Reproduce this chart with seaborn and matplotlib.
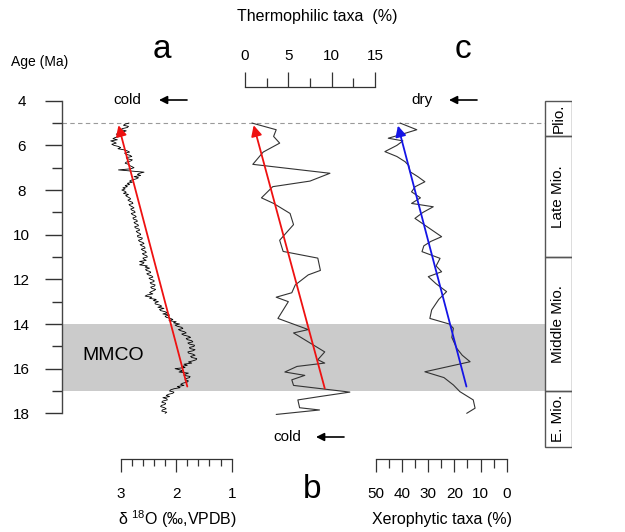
import numpy as np
import matplotlib
matplotlib.use("Agg")
import matplotlib.pyplot as plt
import seaborn as sns

# ---------------- data ----------------
d18o_age = np.round(np.arange(5.0, 18.0001, 0.05), 2)
d18o_val = [2.85, 2.92, 2.95, 2.86, 2.88, 2.97, 3.00, 2.90, 2.96, 3.04,
            3.08, 2.98, 3.02, 3.10, 3.14, 3.06, 3.18, 3.12, 3.08, 3.16,
            3.12, 3.04, 3.00, 3.05, 2.94, 2.88, 2.84, 2.93, 2.90, 2.83,
            2.80, 2.90, 2.88, 2.79, 2.82, 2.90, 2.92, 2.86, 2.84, 2.80,
            2.76, 2.82, 3.04, 2.80, 2.58, 2.66, 2.70, 2.64, 2.76, 2.68,
            2.72, 2.80, 2.84, 2.79, 2.88, 2.84, 2.92, 2.88, 2.96, 2.92,
            2.98, 2.93, 2.90, 2.95, 2.86, 2.91, 2.88, 2.84, 2.82, 2.87,
            2.84, 2.79, 2.78, 2.85, 2.83, 2.79, 2.76, 2.82, 2.80, 2.75,
            2.74, 2.81, 2.79, 2.74, 2.72, 2.78, 2.77, 2.71, 2.70, 2.76,
            2.74, 2.69, 2.68, 2.75, 2.73, 2.67, 2.66, 2.72, 2.70, 2.65,
            2.64, 2.70, 2.69, 2.61, 2.62, 2.68, 2.66, 2.60, 2.58, 2.65,
            2.62, 2.57, 2.56, 2.63, 2.60, 2.55, 2.54, 2.61, 2.58, 2.53,
            2.52, 2.60, 2.58, 2.54, 2.66, 2.58, 2.60, 2.66, 2.52, 2.56,
            2.48, 2.55, 2.54, 2.47, 2.46, 2.53, 2.50, 2.44, 2.42, 2.49,
            2.46, 2.40, 2.40, 2.47, 2.45, 2.38, 2.39, 2.46, 2.44, 2.37,
            2.40, 2.45, 2.48, 2.42, 2.52, 2.56, 2.44, 2.48, 2.36, 2.41,
            2.32, 2.38, 2.38, 2.30, 2.26, 2.33, 2.22, 2.30, 2.28, 2.20,
            2.16, 2.24, 2.12, 2.20, 2.18, 2.10, 2.06, 2.13, 2.00, 2.05,
            1.94, 2.02, 1.98, 1.90, 1.88, 1.96, 1.92, 1.85, 1.82, 1.90,
            1.86, 1.78, 1.74, 1.82, 1.80, 1.72, 1.70, 1.79, 1.76, 1.67,
            1.68, 1.76, 1.75, 1.66, 1.70, 1.79, 1.78, 1.70, 1.66, 1.74,
            1.72, 1.63, 1.64, 1.70, 1.78, 1.72, 1.86, 1.80, 1.90, 1.84,
            2.02, 1.94, 1.88, 1.95, 1.78, 1.84, 1.86, 1.75, 1.76, 1.83,
            1.84, 1.78, 1.80, 1.88, 1.92, 1.86, 1.98, 1.93, 2.04, 2.10,
            2.12, 2.04, 2.06, 2.14, 2.18, 2.12, 2.24, 2.17, 2.16, 2.24,
            2.26, 2.19, 2.20, 2.27, 2.28, 2.21, 2.18, 2.25, 2.26, 2.17,
            2.20]

therm_age = [5.0, 5.3, 5.6, 5.9, 6.3, 6.85, 7.25, 7.6, 7.85, 8.35, 8.6, 9.05,
             9.55, 10.25, 10.75, 11.05, 11.6, 11.8, 12.25, 12.6, 12.8, 13.0,
             13.75, 14.25, 14.4, 15.25, 15.6, 15.75, 15.9, 16.15, 16.3, 16.5,
             16.75, 17.05, 17.25, 17.4, 17.75, 17.85, 18.05]
therm_pct = [0.8, 3.6, 3.3, 4.0, 2.1, 0.9, 9.8, 7.5, 3.2, 1.9, 3.3, 5.2,
             5.6, 4.0, 4.4, 8.4, 8.7, 7.3, 5.8, 5.4, 3.6, 5.0,
             3.8, 7.3, 5.6, 9.2, 8.4, 9.2, 6.0, 4.6, 6.9, 5.4,
             5.6, 12.1, 8.6, 6.1, 6.3, 8.6, 3.6]

xero_age = [5.0, 5.3, 5.5, 5.68, 5.8, 6.0, 6.28, 6.5, 6.73, 6.9, 7.18, 7.4,
            7.63, 7.85, 8.08, 8.35, 8.6, 8.75, 9.0, 9.27, 9.6, 10.09, 10.3,
            10.5, 10.76, 11.06, 11.4, 11.66, 11.88, 12.2, 12.55, 12.9, 13.37,
            13.75, 14.0, 14.19, 14.6, 15.09, 15.4, 15.69, 16.14, 16.4, 16.73,
            17.03, 17.4, 17.77, 18.0]
xero_pct = [40.8, 34.4, 40.0, 45.3, 39.7, 42.0, 46.6, 42.0, 38.9, 37.5, 37.0, 34.0,
            31.3, 35.0, 36.4, 33.0, 36.4, 28.1, 32.0, 35.1, 31.0, 24.9, 29.0,
            31.7, 32.4, 25.5, 27.0, 24.9, 30.0, 27.0, 23.0, 26.0, 28.7,
            29.4, 22.0, 20.4, 21.0, 19.1, 17.0, 14.0, 31.3, 24.0, 20.4,
            17.9, 12.8, 12.1, 15.3]

trend_a_age = [16.8, 5.1]
trend_a_val = [1.80, 3.04]
trend_b_age = [16.88, 5.1]
trend_b_val = [9.2, 1.0]
trend_c_age = [16.8, 5.12]
trend_c_val = [15.4, 41.6]

age_major = [4, 6, 8, 10, 12, 14, 16, 18]
age_minor = [5, 7, 9, 11, 13, 15, 17]
d18o_major = [3, 2, 1]
d18o_minor = [2.8, 2.6, 2.4, 2.2, 1.8, 1.6, 1.4, 1.2]
therm_major = [0, 5, 10, 15]
therm_minor = [2.5, 7.5, 12.5]
xero_major = [50, 40, 30, 20, 10, 0]
xero_minor = [45, 35, 25, 15, 5]

mmco_top, mmco_bottom = 14, 17
plio_age = 5

epoch_names = ["Plio.", "Late Mio.", "Middle Mio.", "E. Mio."]
epoch_start = [4.0, 5.6, 11.0, 17.0]
epoch_end = [5.6, 11.0, 17.0, 19.5]

# ---------------- style ----------------
sns.set_theme(style="ticks")
plt.rcParams['font.family'] = ['Liberation Sans', 'DejaVu Sans']
plt.rcParams['mathtext.fontset'] = 'custom'
plt.rcParams['mathtext.rm'] = 'Liberation Sans'
plt.rcParams['text.color'] = 'black'
plt.rcParams['xtick.color'] = '#333333'
plt.rcParams['ytick.color'] = '#333333'
plt.rcParams['xtick.labelcolor'] = 'black'
plt.rcParams['ytick.labelcolor'] = 'black'

W, H = 625, 532
PT = 0.72  # points per pixel at 100 dpi
fig = plt.figure(figsize=(W / 100, H / 100), dpi=100)
fig.patch.set_facecolor('white')

AGE_TOP, AGE_BOT = 3.9, 19.6


def age_px(a):
    return 100.7 + (a - 4) * 22.33


L_PX, R_PX = 62, 572
top_px, bot_px = age_px(AGE_TOP), age_px(AGE_BOT)
rect = [L_PX / W, 1 - bot_px / H, (R_PX - L_PX) / W, (bot_px - top_px) / H]


def lim_from_anchors(v1, p1, v2, p2):
    s = (v2 - v1) / (p2 - p1)
    return (v1 + (L_PX - p1) * s, v1 + (R_PX - p1) * s)


# ---- base axes: age axis, MMCO band, epochs ----
ax0 = fig.add_axes(rect)
ax0.set_facecolor('none')
ax0.set_xlim(0, 1)
ax0.set_ylim(AGE_BOT, AGE_TOP)
band_right = (545 - L_PX) / (R_PX - L_PX)
ax0.axhspan(mmco_top, mmco_bottom, xmin=0, xmax=band_right, color='#cbcbcb', lw=0, zorder=0)
ax0.axhline(plio_age, xmin=0, xmax=band_right, color='#9a9a9a', lw=0.8, ls=(0, (4, 3)), zorder=1)
ep_center = (band_right + 1) / 2
ep_width = 1 - band_right
heights = [e - s for s, e in zip(epoch_start, epoch_end)]
ax0.bar(x=[ep_center] * len(epoch_names), height=heights, bottom=epoch_start, width=ep_width,
        fill=False, edgecolor='#555555', linewidth=1.0, zorder=2)
for name, s, e in zip(epoch_names, epoch_start, epoch_end):
    ax0.text(ep_center, (s + e) / 2, name, rotation=90, ha='center', va='center', fontsize=11)
for sp in ['top', 'right', 'bottom']:
    ax0.spines[sp].set_visible(False)
ax0.spines['left'].set_bounds(4, 18)
ax0.spines['left'].set_color('#444444')
ax0.spines['left'].set_linewidth(1.0)
ax0.set_xticks([])
ax0.set_yticks(age_major)
ax0.set_yticks(age_minor, minor=True)
ax0.set_yticklabels([str(a) for a in age_major])
ax0.tick_params(axis='y', which='major', left=True, length=17 * PT, width=1.0, pad=23.5 * PT, labelsize=11)
ax0.tick_params(axis='y', which='minor', left=True, length=10 * PT, width=1.0)
for lab in ax0.get_yticklabels():
    lab.set_horizontalalignment('center')
ax0.text(0.1, 15.4, "MMCO", transform=ax0.transData, fontsize=14, ha='center', va='center')


def panel_axes(xlim):
    ax = fig.add_axes(rect)
    ax.set_facecolor('none')
    ax.set_xlim(*xlim)
    ax.set_ylim(AGE_BOT, AGE_TOP)
    ax.set_yticks([])
    for sp in ['left', 'right', 'top', 'bottom']:
        ax.spines[sp].set_visible(False)
    return ax


ARROW_KW = dict(arrowstyle='-|>', lw=1.3, mutation_scale=16, shrinkA=0, shrinkB=0)

# ---- panel a: d18O ----
axa = panel_axes(lim_from_anchors(3, 120.7, 1, 231.7))
sns.lineplot(x=d18o_val, y=d18o_age, sort=False, estimator=None, color='black', lw=0.6, ax=axa)
axa.annotate('', xy=(trend_a_val[1], trend_a_age[1]), xytext=(trend_a_val[0], trend_a_age[0]),
             arrowprops=dict(color='#ee1111', **ARROW_KW))
axa.spines['bottom'].set_visible(True)
axa.spines['bottom'].set_bounds(1, 3)
axa.spines['bottom'].set_position(('outward', (459.3 - bot_px) * PT))
axa.spines['bottom'].set_color('#333333')
axa.spines['bottom'].set_linewidth(0.9)
axa.set_xticks(d18o_major)
axa.set_xticks(d18o_minor, minor=True)
axa.set_xticklabels([str(v) for v in d18o_major])
axa.tick_params(axis='x', which='major', bottom=True, length=13.4 * PT, width=0.9, pad=14.6 * PT, labelsize=11)
axa.tick_params(axis='x', which='minor', bottom=True, length=7 * PT, width=0.9)
axa.set_xlabel('')
axa.set_ylabel('')

# ---- panel b: thermophilic ----
axb = panel_axes(lim_from_anchors(0, 245, 15, 375))
sns.lineplot(x=therm_pct, y=therm_age, sort=False, estimator=None, color='#333333', lw=0.8, ax=axb)
axb.annotate('', xy=(trend_b_val[1], trend_b_age[1]), xytext=(trend_b_val[0], trend_b_age[0]),
             arrowprops=dict(color='#ee1111', **ARROW_KW))
axb.spines['top'].set_visible(True)
axb.spines['top'].set_bounds(0, 15)
axb.spines['top'].set_position(('outward', (top_px - 86.7) * PT))
axb.spines['top'].set_color('#333333')
axb.spines['top'].set_linewidth(0.9)
axb.xaxis.set_ticks_position('top')
axb.xaxis.set_label_position('top')
axb.set_xticks(therm_major)
axb.set_xticks(therm_minor, minor=True)
axb.set_xticklabels([str(v) for v in therm_major])
axb.tick_params(axis='x', which='major', top=True, bottom=False, length=15 * PT, width=0.9, pad=8.5 * PT, labelsize=11)
axb.tick_params(axis='x', which='minor', top=True, bottom=False, length=9.3 * PT, width=0.9)
axb.set_xlabel('')
axb.set_ylabel('')

# ---- panel c: xerophytic ----
axc = panel_axes(lim_from_anchors(50, 376, 0, 506.7))
sns.lineplot(x=xero_pct, y=xero_age, sort=False, estimator=None, color='#333333', lw=0.8, ax=axc)
axc.annotate('', xy=(trend_c_val[1], trend_c_age[1]), xytext=(trend_c_val[0], trend_c_age[0]),
             arrowprops=dict(color='#1515e6', **ARROW_KW))
axc.spines['bottom'].set_visible(True)
axc.spines['bottom'].set_bounds(0, 50)
axc.spines['bottom'].set_position(('outward', (459.3 - bot_px) * PT))
axc.spines['bottom'].set_color('#333333')
axc.spines['bottom'].set_linewidth(0.9)
axc.set_xticks(xero_major)
axc.set_xticks(xero_minor, minor=True)
axc.set_xticklabels([str(v) for v in xero_major])
axc.tick_params(axis='x', which='major', bottom=True, length=13.4 * PT, width=0.9, pad=14.6 * PT, labelsize=11)
axc.tick_params(axis='x', which='minor', bottom=True, length=8.7 * PT, width=0.9)
axc.set_xlabel('')
axc.set_ylabel('')


# ---- texts ----
def ftext(px, py, s, **kw):
    fig.text(px / W, 1 - py / H, s, **kw)


def farrow(x_from, x_to, py):
    fig.add_artist(matplotlib.patches.FancyArrowPatch(
        (x_from / W, 1 - py / H), (x_to / W, 1 - py / H), transform=fig.transFigure,
        arrowstyle='-|>', color='black', lw=1.2, mutation_scale=12, shrinkA=0, shrinkB=0))


ftext(40, 62, "Age (Ma)", ha='center', va='center', fontsize=10)
ftext(317, 16, "Thermophilic taxa  (%)", ha='center', va='center', fontsize=11.5)
ftext(177.5, 519.3, r"δ $\mathregular{^{18}}$O (‰,VPDB)", ha='center', va='center', fontsize=11.5)
ftext(442.5, 519.3, "Xerophytic taxa (%)", ha='center', va='center', fontsize=11.5)
ftext(162, 50, "a", ha='center', va='center', fontsize=24)
ftext(463, 50, "c", ha='center', va='center', fontsize=24)
ftext(312, 490, "b", ha='center', va='center', fontsize=24)
ftext(127, 100, "cold", ha='center', va='center', fontsize=11)
farrow(187, 159, 100)
ftext(422, 100, "dry", ha='center', va='center', fontsize=11)
farrow(477, 449, 100)
ftext(287, 437, "cold", ha='center', va='center', fontsize=11)
farrow(344, 316, 437)

fig.savefig("out.png", dpi=100, facecolor='white')
